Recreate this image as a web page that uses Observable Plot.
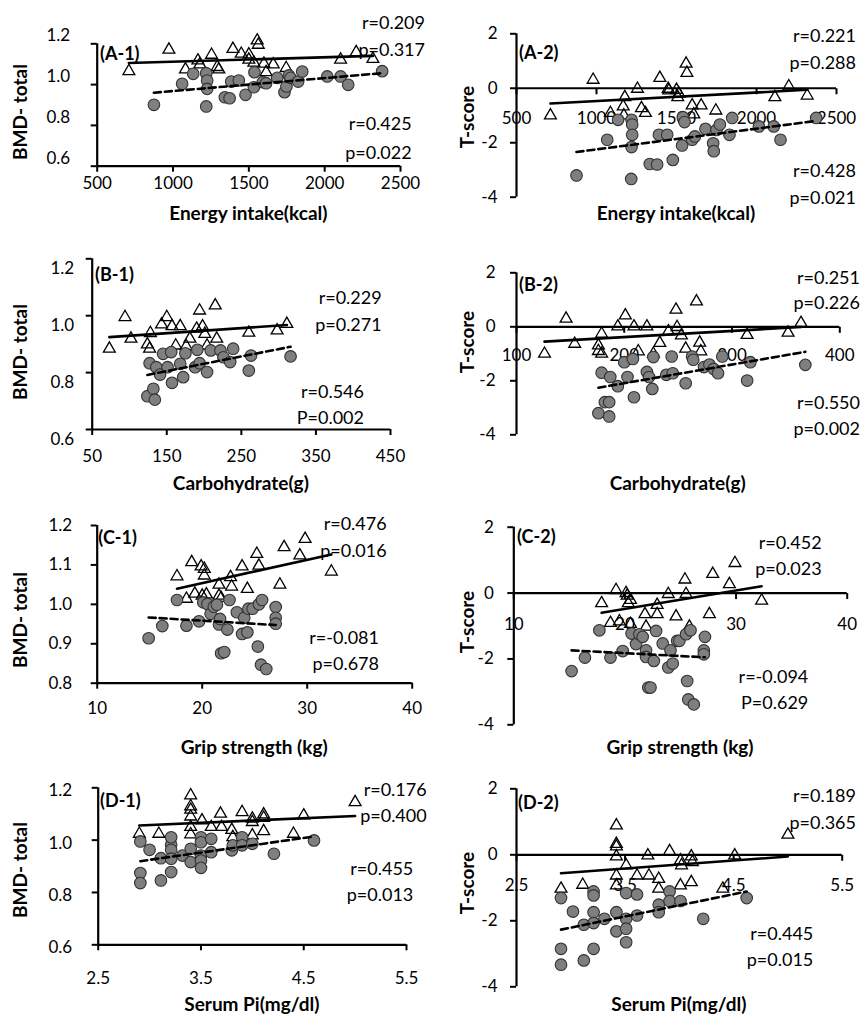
<!DOCTYPE html>
<html><head><meta charset="utf-8">
<script src="https://cdn.jsdelivr.net/npm/d3@7"></script>
<script src="https://cdn.jsdelivr.net/npm/@observablehq/plot@0.6"></script>
<style>
body{margin:0;background:#fff;}
#wrap{position:relative;width:864px;height:1016px;overflow:hidden;font-family:Lato,"Open Sans",sans-serif;color:#000;background:#fff;}
.p{position:absolute;}
.t{position:absolute;white-space:nowrap;line-height:20px;height:20px;z-index:5;}
.ann{font-size:18px;}
.ttl{font-weight:bold;font-size:19px;line-height:18px;height:18px;}
.lab{font-weight:bold;font-size:18px;}
</style></head><body><div id="wrap"></div>
<script>
// ---------------- DATA ----------------
const panelIds = ["A-1","A-2","B-1","B-2","C-1","C-2","D-1","D-2"];
const xTitles = ["Energy intake(kcal)","Energy intake(kcal)","Carbohydrate(g)","Carbohydrate(g)","Grip strength (kg)","Grip strength (kg)","Serum Pi(mg/dl)","Serum Pi(mg/dl)"];
const yTitles = ["BMD- total","T-score","BMD- total","T-score","BMD- total","T-score","BMD- total","T-score"];
const rTop = ["r=0.209","r=0.221","r=0.229","r=0.251","r=0.476","r=0.452","r=0.176","r=0.189"];
const pTop = ["p=0.317","p=0.288","p=0.271","p=0.226","p=0.016","p=0.023","p=0.400","p=0.365"];
const rBot = ["r=0.425","r=0.428","r=0.546","r=0.550","r=-0.081","r=-0.094","r=0.455","r=0.445"];
const pBot = ["p=0.022","p=0.021","P=0.002","p=0.002","p=0.678","P=0.629","p=0.013","p=0.015"];

const energyTicks = [500,1000,1500,2000,2500];
const carbTicks1 = [50,150,250,350,450];
const carbTicks2 = [100,200,300,400];
const gripTicks = [10,20,30,40];
const piTicks = [2.5,3.5,4.5,5.5];
const bmdTicks = [0.6,0.8,1.0,1.2];
const bmdTicksC = [0.8,0.9,1.0,1.1,1.2];
const tTicks = [-4,-2,0,2];

// [x, y] pairs: triangles (solid trend) and circles (dashed trend)
const a1Tri = [[709,1.066],[973,1.171],[1082,1.074],[1164,1.118],[1177,1.099],[1254,1.146],[1291,1.086],[1302,1.074],[1395,1.175],[1450,1.151],[1500,1.148],[1500,1.122],[1555,1.216],[1562,1.195],[1533,1.107],[1599,1.102],[1614,1.061],[1661,1.099],[1746,1.081],[2105,1.122],[2208,1.159],[2318,1.126]];
const a1Cir = [[874,0.901],[1060,1.004],[1133,1.053],[1219,1.056],[1225,1.020],[1225,0.979],[1219,0.893],[1342,0.938],[1373,0.933],[1384,1.015],[1434,1.020],[1478,0.950],[1533,0.987],[1537,1.061],[1592,1.012],[1614,1.007],[1687,1.033],[1735,0.963],[1748,0.991],[1764,1.045],[1775,1.033],[1825,1.015],[1852,1.064],[2017,1.040],[2105,1.040],[2155,0.999],[2379,1.066]];
const a2Tri = [[712,-1.0],[979,0.31],[1087,-0.91],[1177,-0.33],[1167,-0.67],[1171,-1.0],[1256,-0.02],[1281,-0.73],[1306,-0.91],[1396,0.38],[1448,-0.02],[1452,-0.08],[1500,-0.06],[1508,-0.33],[1515,-0.2],[1560,0.90],[1565,0.56],[1598,-0.63],[1608,-0.96],[1654,-0.63],[1746,-0.82],[2115,-0.33],[2202,0.07],[2317,-0.27]];
const a2Cir = [[875,-3.20],[1067,-1.89],[1135,-1.16],[1219,-1.16],[1223,-1.33],[1223,-1.71],[1219,-2.16],[1217,-3.33],[1333,-2.78],[1379,-2.80],[1390,-1.71],[1442,-1.71],[1477,-2.63],[1535,-2.10],[1540,-1.06],[1550,-1.24],[1598,-1.89],[1615,-1.77],[1681,-1.49],[1729,-2.02],[1733,-2.31],[1750,-1.53],[1771,-1.33],[1831,-1.71],[1848,-1.09],[2015,-1.40],[2108,-1.40],[2150,-1.89],[2373,-1.09]];
const b1Tri = [[73,0.884],[94,0.995],[102,0.919],[124,0.899],[127,0.884],[128,0.939],[143,0.969],[150,0.995],[157,0.963],[162,0.895],[168,0.963],[181,0.919],[176,0.893],[190,0.954],[194,1.018],[198,0.962],[201,0.936],[204,0.895],[215,1.036],[217,0.919],[260,0.940],[298,0.948],[311,0.971]];
const b1Cir = [[124,0.717],[127,0.833],[132,0.743],[134,0.705],[136,0.819],[141,0.793],[145,0.866],[151,0.819],[156,0.872],[157,0.764],[168,0.831],[172,0.784],[175,0.868],[188,0.819],[191,0.880],[194,0.833],[204,0.802],[209,0.878],[222,0.878],[226,0.854],[235,0.837],[239,0.884],[260,0.807],[263,0.860],[316,0.857]];
const b2Tri = [[126,-1.0],[146,0.30],[154,-0.63],[176,-0.69],[176,-0.90],[179,-1.0],[179,-0.26],[194,0.01],[201,0.42],[209,0.01],[213,-0.91],[221,0.01],[227,-1.0],[233,-0.60],[241,-0.17],[248,0.63],[249,-0.01],[253,-0.32],[257,-0.81],[267,0.94],[270,-0.59],[271,-0.91],[314,-0.30],[352,-0.22],[364,0.14]];
const b2Cir = [[176,-3.20],[179,-1.70],[182,-2.79],[186,-2.79],[186,-3.32],[187,-1.86],[194,-2.20],[200,-1.31],[203,-1.86],[208,-1.19],[209,-2.61],[221,-1.67],[223,-1.86],[227,-1.12],[226,-2.30],[239,-1.78],[244,-1.10],[245,-1.72],[257,-2.09],[263,-1.10],[264,-1.22],[274,-1.49],[279,-1.40],[283,-1.56],[287,-1.72],[291,-1.10],[314,-1.99],[317,-1.31],[368,-1.41]];
const c1Tri = [[17.6,1.071],[18.5,1.014],[19.0,1.107],[19.3,1.027],[19.9,1.096],[20.0,1.022],[20.2,1.090],[20.2,1.073],[20.4,1.025],[21.6,1.050],[21.6,1.022],[21.8,1.016],[22.7,1.069],[22.8,1.045],[23.8,1.096],[24.3,1.039],[25.2,1.128],[25.4,1.098],[27.4,1.050],[27.8,1.145],[29.3,1.124],[29.8,1.166],[32.3,1.083]];
const c1Cir = [[14.9,0.914],[16.2,0.945],[17.6,1.011],[18.5,0.946],[19.7,0.957],[20.1,1.005],[20.5,1.001],[20.8,0.976],[21.1,0.994],[21.4,0.999],[21.6,0.949],[21.7,0.963],[21.8,0.876],[22.1,0.879],[22.4,0.936],[22.6,1.011],[23.3,0.980],[23.8,0.925],[24.0,0.966],[24.3,0.929],[24.4,0.989],[24.8,0.989],[25.3,0.893],[25.4,1.000],[25.6,0.847],[25.7,1.011],[26.1,0.836],[27.0,0.993],[27.0,0.966],[27.0,0.951]];
const c2Tri = [[17.9,-0.31],[18.7,-0.91],[19.2,0.09],[19.5,-0.86],[20.1,0.00],[20.2,-0.08],[20.3,-0.31],[20.5,-0.21],[20.5,-0.94],[21.8,-0.64],[21.9,-1.02],[22.9,-0.36],[22.9,-0.64],[23.9,-0.03],[24.6,-0.71],[25.4,0.41],[25.5,-0.03],[25.8,-1.02],[27.6,-0.64],[27.9,0.58],[29.4,0.27],[29.9,0.91],[32.3,-0.23]];
const c2Cir = [[15.2,-2.37],[16.4,-1.96],[17.7,-1.13],[18.7,-1.96],[19.8,-1.76],[20.6,-1.23],[21.0,-1.55],[21.3,-1.25],[21.6,-1.33],[21.9,-1.74],[21.9,-1.94],[22.1,-2.87],[22.3,-2.87],[22.6,-2.06],[22.8,-1.15],[23.4,-1.53],[23.9,-2.26],[24.1,-1.74],[24.3,-2.14],[24.7,-1.45],[24.9,-1.45],[25.5,-1.25],[25.6,-2.67],[25.7,-3.23],[25.9,-1.13],[26.2,-3.38],[27.2,-1.33],[27.1,-1.74],[27.1,-1.86]];
const d1Tri = [[2.90,1.024],[3.09,1.024],[3.40,1.171],[3.40,1.129],[3.40,1.116],[3.40,1.090],[3.40,1.050],[3.40,1.022],[3.51,1.075],[3.60,1.050],[3.69,1.101],[3.70,1.050],[3.80,1.039],[3.81,1.011],[3.90,1.107],[4.00,1.082],[4.00,1.069],[4.00,1.018],[4.11,1.098],[4.11,1.085],[4.11,1.034],[4.40,1.024],[4.50,1.094],[5.00,1.145]];
const d1Cir = [[2.91,0.995],[2.91,0.874],[2.91,0.836],[3.00,0.963],[3.11,0.931],[3.11,0.846],[3.21,0.982],[3.21,1.011],[3.21,0.963],[3.21,0.929],[3.21,0.878],[3.32,0.941],[3.40,0.967],[3.40,0.916],[3.50,1.011],[3.50,0.992],[3.50,0.941],[3.50,0.922],[3.50,0.894],[3.60,1.005],[3.60,0.954],[3.80,0.961],[3.81,0.980],[3.90,1.011],[3.90,0.980],[4.00,0.986],[4.21,0.948],[4.60,0.999]];
const d2Tri = [[2.91,-1.03],[3.11,-0.91],[3.42,0.89],[3.42,0.33],[3.42,0.25],[3.42,-0.05],[3.42,-0.63],[3.42,-0.93],[3.51,-0.32],[3.61,-0.63],[3.71,-0.02],[3.72,-0.63],[3.81,-0.73],[3.81,-1.03],[3.91,0.11],[4.01,-0.17],[4.02,-0.32],[4.01,-0.93],[4.11,-0.05],[4.12,-0.22],[4.11,-0.83],[4.40,-1.03],[4.51,-0.02],[5.00,0.61]];
const d2Cir = [[2.91,-1.31],[2.91,-2.85],[2.91,-3.33],[3.02,-1.72],[3.12,-2.12],[3.12,-3.20],[3.21,-1.11],[3.21,-1.23],[3.21,-1.74],[3.21,-2.07],[3.21,-2.85],[3.31,-1.94],[3.42,-1.74],[3.42,-2.32],[3.51,-1.16],[3.51,-1.94],[3.51,-2.24],[3.51,-2.65],[3.61,-1.20],[3.61,-1.84],[3.81,-1.51],[3.81,-1.74],[3.91,-1.11],[3.91,-1.40],[4.01,-1.40],[4.22,-1.94],[4.62,-1.31]];

// ---------------- LAYOUT (page pixels) ----------------
const panels = [
  {tri:a1Tri, cir:a1Cir, xd:[500,2500], yd:[0.6,1.2], xt:energyTicks, yt:bmdTicks, right:false, box:[0,0,228], frame:[96.7,400,43.3,165.7], yGap:27, yDy:-8, xDy:17.6, yf:d=>d.toFixed(1), xf:d=>String(d), ann:[425,21.7,49.3,411.7,123.3,151.7], lab:[100,53], xT:213, yT:[20,112]},
  {tri:a2Tri, cir:a2Cir, xd:[500,2500], yd:[-4,2], xt:energyTicks, yt:tTicks, right:true, box:[432,0,228], frame:[516,836,33.3,196.7], yGap:19, yDy:0, xDy:30.6, yf:d=>String(d), xf:d=>String(d), ann:[856,35,61.7,856,170,196.7], lab:[519,51.7], xT:213, yT:[466.7,116.7]},
  {tri:b1Tri, cir:b1Cir, xd:[50,450], yd:[0.6,1.2], xt:carbTicks1, yt:bmdTicks, right:false, box:[0,228,266], frame:[91.7,390,258.3,429], yGap:18, yDy:10, xDy:27, yf:d=>d.toFixed(1), xf:d=>String(d), ann:[381.7,297.3,324,364,390.7,417.3], lab:[95,274], xT:483, yT:[20,352]},
  {tri:b2Tri, cir:b2Cir, xd:[100,400], yd:[-4,2], xt:carbTicks2, yt:tTicks, right:true, box:[432,228,266], frame:[516,839.3,272.3,434.3], yGap:21, yDy:0, xDy:29, yf:d=>String(d), xf:d=>String(d), ann:[860,276.7,302.3,860,401.7,428.3], lab:[519,284], xT:483, yT:[466.7,341.7]},
  {tri:c1Tri, cir:c1Cir, xd:[10,40], yd:[0.8,1.2], xt:gripTicks, yt:bmdTicksC, right:false, box:[0,494,264], frame:[96.7,411.7,525,682.7], yGap:25, yDy:0, xDy:25.6, yf:d=>d.toFixed(1), xf:d=>String(d), ann:[386.7,523.3,550,379,636.7,662.7], lab:[98.3,536.7], xT:746.7, yT:[20,620]},
  {tri:c2Tri, cir:c2Cir, xd:[10,40], yd:[-4,2], xt:gripTicks, yt:tTicks, right:true, box:[432,494,264], frame:[513.3,846.7,526.7,724.3], yGap:20, yDy:0, xDy:31, yf:d=>String(d), xf:d=>String(d), ann:[821.7,541.7,568.3,808.3,675.7,702.3], lab:[517,536], xT:746.7, yT:[466.7,621.7]},
  {tri:d1Tri, cir:d1Cir, xd:[2.5,5.5], yd:[0.6,1.2], xt:piTicks, yt:bmdTicks, right:false, box:[0,758,258], frame:[97.7,406,787.3,944.3], yGap:26, yDy:3, xDy:34, yf:d=>d.toFixed(1), xf:d=>d.toFixed(1), ann:[426.7,789.3,815,413.3,868.3,894], lab:[100,800], xT:1004, yT:[20,870]},
  {tri:d2Tri, cir:d2Cir, xd:[2.5,5.5], yd:[-4,2], xt:piTicks, yt:tTicks, right:true, box:[432,758,258], frame:[516,841.7,788.3,986.3], yGap:19, yDy:0, xDy:30.7, yf:d=>String(d), xf:d=>d.toFixed(1), ann:[856,795,821.7,813.3,933.3,959.3], lab:[518,801.7], xT:1004, yT:[466.7,883.3]}
];

const wrap = document.getElementById("wrap");
const FONT = "Lato, 'Open Sans', sans-serif";
const downTick = {draw(ctx, size){ const l = Math.sqrt(size/Math.PI); ctx.moveTo(0,0); ctx.lineTo(0,l); }};

function addText(txt, cls, css) {
  const d = document.createElement("div");
  d.className = "t " + cls;
  d.textContent = txt;
  Object.assign(d.style, css);
  wrap.appendChild(d);
}

panels.forEach((p, i) => {
  const [L, T, H] = p.box;
  const W = 432;
  const [x0, x1, yTop, yBot] = p.frame;
  const X = d => d[0], Y = d => d[1];
  const marks = [];
  // tick labels (drawn beneath the data)
  marks.push(Plot.text(p.yt, {y: d => d, frameAnchor: "left", textAnchor: "end", lineAnchor: "middle", dx: -p.yGap, dy: p.yDy, text: p.yf, fontSize: 17}));
  if (p.right) {
    marks.push(Plot.text(p.xt, {x: d => d, y: () => 0, lineAnchor: "middle", dy: p.xDy, text: p.xf, fontSize: 17}));
  } else {
    marks.push(Plot.text(p.xt, {x: d => d, frameAnchor: "bottom", lineAnchor: "middle", dy: p.xDy, text: p.xf, fontSize: 17}));
  }
  // data
  marks.push(Plot.dot(p.tri, {x: X, y: Y, symbol: "triangle", r: 4.4, fill: "white", fillOpacity: 0, stroke: "black", strokeWidth: 1.3}));
  marks.push(Plot.dot(p.cir, {x: X, y: Y, r: 5.8, fill: "#7f7f7f", stroke: "#333", strokeWidth: 1.1}));
  marks.push(Plot.linearRegressionY(p.tri, {x: X, y: Y, ci: 0, stroke: "black", strokeWidth: 2.6}));
  marks.push(Plot.linearRegressionY(p.cir, {x: X, y: Y, ci: 0, stroke: "black", strokeWidth: 2.6, strokeDasharray: "7,4"}));
  // axes
  marks.push(Plot.ruleX([p.xd[0]], {stroke: "black", strokeWidth: 2.2}));
  marks.push(Plot.axisY({ticks: p.yt, tickSize: 6, tickFormat: () => "", label: null, strokeWidth: 2}));
  if (p.right) {
    marks.push(Plot.ruleY([0], {stroke: "black", strokeWidth: 2.2}));
    marks.push(Plot.dot(p.xt, {x: d => d, y: () => 0, symbol: downTick, r: 6, fill: "none", stroke: "black", strokeWidth: 2}));
  } else {
    marks.push(Plot.ruleY([p.yd[0]], {stroke: "black", strokeWidth: 2.2}));
    marks.push(Plot.axisX({ticks: p.xt, tickSize: 6, tickFormat: () => "", label: null, strokeWidth: 2}));
  }
  const svg = Plot.plot({
    width: W, height: H,
    marginLeft: x0 - L, marginRight: L + W - x1,
    marginTop: yTop - T, marginBottom: T + H - yBot,
    x: {domain: p.xd, axis: p.right ? null : undefined},
    y: {domain: p.yd},
    style: {background: "transparent", fontFamily: FONT, fontSize: "17px", color: "black", overflow: "visible"},
    marks
  });
  svg.classList.add("p");
  svg.style.left = L + "px";
  svg.style.top = T + "px";
  svg.style.position = "absolute";
  wrap.appendChild(svg);

  // text around the panel
  const a = p.ann;
  addText(rTop[i], "ann", {right: (864 - a[0]) + "px", top: (a[1] - 10) + "px"});
  addText(pTop[i], "ann", {right: (864 - a[0]) + "px", top: (a[2] - 10) + "px"});
  addText(rBot[i], "ann", {right: (864 - a[3]) + "px", top: (a[4] - 10) + "px"});
  addText(pBot[i], "ann", {right: (864 - a[3]) + "px", top: (a[5] - 10) + "px"});
  addText("(" + panelIds[i] + ")", "lab", {left: p.lab[0] + "px", top: (p.lab[1] - 10) + "px"});
  addText(xTitles[i], "ttl", {left: ((x0 + x1) / 2) + "px", top: (p.xT - 9) + "px", transform: "translateX(-50%)"});
  addText(yTitles[i], "ttl", {left: p.yT[0] + "px", top: p.yT[1] + "px", transform: "translate(-50%,-50%) rotate(-90deg)"});
});
</script>
</body></html>
